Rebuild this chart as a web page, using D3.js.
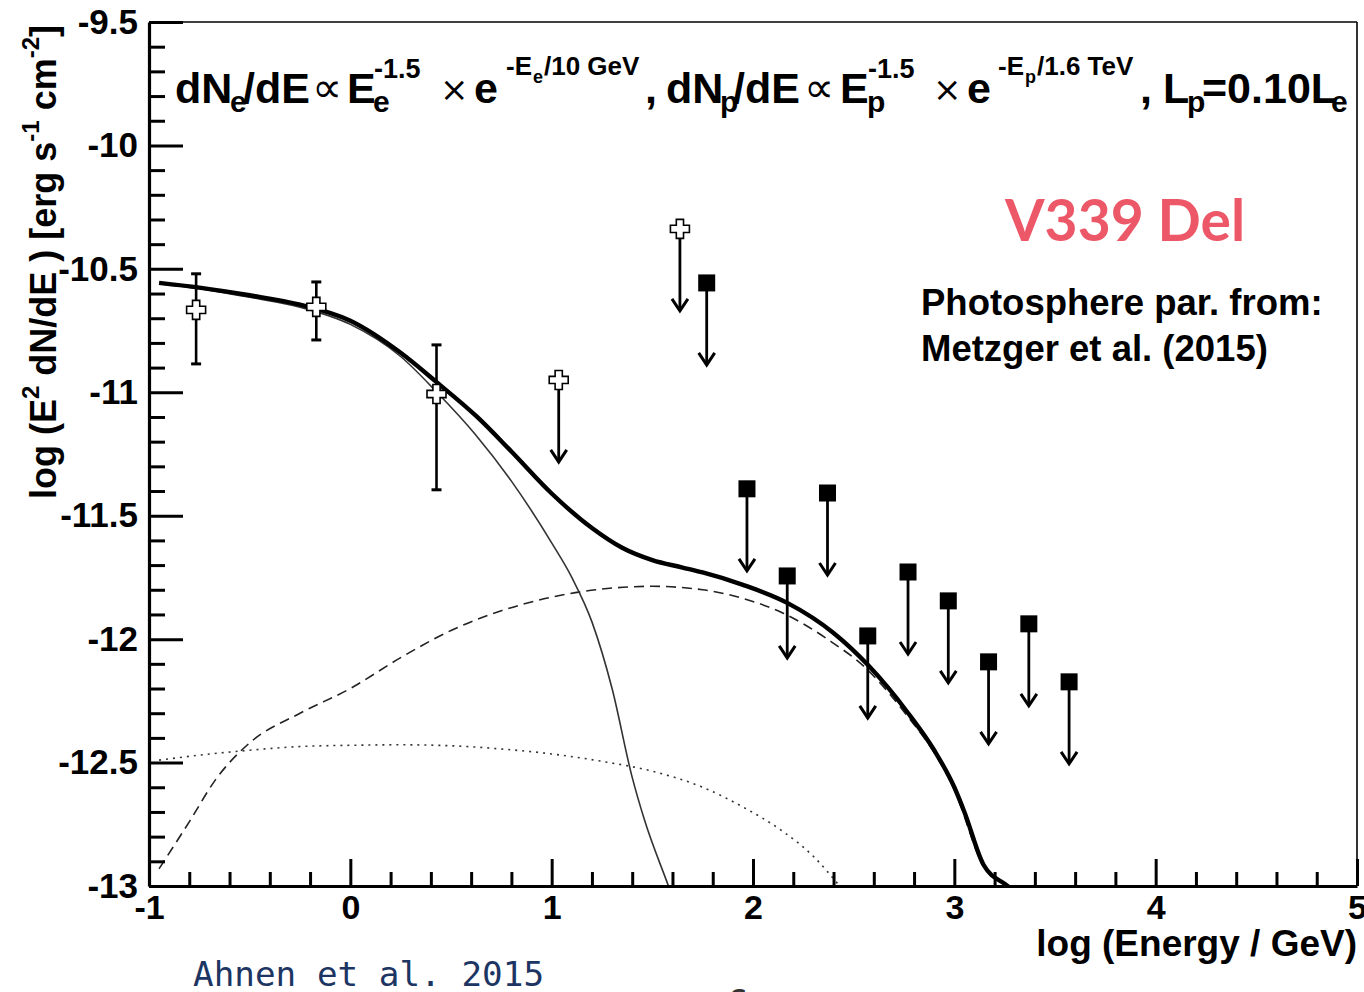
<!DOCTYPE html>
<html>
<head>
<meta charset="utf-8">
<script src="https://cdn.jsdelivr.net/npm/d3@7"></script>
<style>
  html, body { margin: 0; padding: 0; background: #fff; }
  svg { display: block; }
  text { font-family: "Liberation Sans", Arial, Helvetica, sans-serif; font-weight: bold; fill: #000; }
</style>
</head>
<body>
<svg id="chart" width="1364" height="992"></svg>
<script>
// ---- model curves: [log10(E/GeV), log10(E^2 dN/dE)] ----
const totalModel = [
  [-0.95, -10.557], [-0.75, -10.576], [-0.5, -10.607], [-0.25, -10.645], [0, -10.71],
  [0.25, -10.84], [0.43, -10.96], [0.63, -11.10], [0.8, -11.24], [1.0, -11.41],
  [1.2, -11.55], [1.35, -11.63], [1.5, -11.68], [1.65, -11.71], [1.75, -11.73],
  [1.95, -11.78], [2.17, -11.853], [2.4, -11.975], [2.57, -12.104], [2.77, -12.299],
  [2.9, -12.45], [3.0, -12.6], [3.05, -12.7], [3.145, -12.914], [3.264, -13.0], [3.35, -13.06]
];
const electronIC = [
  [-0.95, -10.56], [-0.75, -10.58], [-0.5, -10.615], [-0.25, -10.655], [0, -10.725],
  [0.25, -10.855], [0.43, -11.0], [0.62, -11.17], [0.8, -11.36], [1.0, -11.61],
  [1.1, -11.75], [1.2, -11.93], [1.3, -12.2], [1.4, -12.56], [1.46, -12.73],
  [1.58, -13.0], [1.62, -13.09]
];
const protonPi0 = [
  [-0.95, -12.93], [-0.8, -12.74], [-0.67, -12.57], [-0.5, -12.42], [-0.25, -12.30],
  [0, -12.2], [0.25, -12.075], [0.5, -11.965], [0.75, -11.885], [1.0, -11.83],
  [1.25, -11.797], [1.5, -11.786], [1.75, -11.8], [1.95, -11.835], [2.15, -11.895],
  [2.37, -12.0], [2.57, -12.125], [2.77, -12.315], [2.9, -12.46], [3.0, -12.61],
  [3.145, -12.92], [3.264, -13.0], [3.35, -13.06]
];
const secondaryComp = [
  [-0.95, -12.49], [-0.75, -12.47], [-0.5, -12.45], [-0.25, -12.435], [0, -12.43],
  [0.25, -12.428], [0.5, -12.432], [0.75, -12.445], [1.0, -12.465], [1.25, -12.495],
  [1.5, -12.535], [1.75, -12.6], [1.95, -12.68], [2.15, -12.78], [2.3, -12.88],
  [2.43, -13.0]
];

// ---- Fermi-LAT flux points with error bars ----
const fermiLogE  = [-0.766, -0.169, 0.428];
const fermiFlux  = [-10.666, -10.654, -11.007];
const fermiHigh  = [-10.52, -10.553, -10.808];
const fermiLow   = [-10.885, -10.788, -11.395];

// ---- Fermi-LAT upper limits ----
const fermiULLogE = [1.035, 1.637];
const fermiULFlux = [-10.95, -10.338];

// ---- MAGIC upper limits ----
const magicLogE = [1.77, 1.97, 2.17, 2.37, 2.57, 2.77, 2.97, 3.17, 3.37, 3.57];
const magicUL   = [-10.557, -11.391, -11.744, -11.408, -11.987, -11.728, -11.845, -12.092, -11.938, -12.173];

// ---- axis ticks ----
const xMajorTicks = [-1, 0, 1, 2, 3, 4, 5];
const yMajorTicks = [-13, -12.5, -12, -11.5, -11, -10.5, -10, -9.5];

// ---------------------------------------------------------------
const svg = d3.select("#chart");
const L = 149, R = 1357, T = 22, B = 886;

const x = d3.scaleLinear().domain([-1, 5]).range([L, R]);
const y = d3.scaleLinear().domain([-13, -9.5]).range([B, T]);

const xMinor = d3.range(-1, 5.0001, 0.2).map(v => +v.toFixed(2)).filter(v => !xMajorTicks.includes(v));
const yMinor = d3.range(-13, -9.4999, 0.1).map(v => +v.toFixed(2))
  .filter(v => !yMajorTicks.some(m => Math.abs(m - v) < 1e-6));

svg.append("defs").append("clipPath").attr("id", "plotclip")
  .append("rect").attr("x", L).attr("y", T).attr("width", R - L).attr("height", B - T);

// frame (top and right are thin)
svg.append("line").attr("x1", L).attr("x2", R).attr("y1", T).attr("y2", T)
  .attr("stroke", "#000").attr("stroke-width", 1.6);
svg.append("line").attr("x1", R).attr("x2", R).attr("y1", T).attr("y2", B)
  .attr("stroke", "#000").attr("stroke-width", 1.6);

// model curves
const line = d3.line().x(d => x(d[0])).y(d => y(d[1])).curve(d3.curveMonotoneX);
const curves = svg.append("g").attr("clip-path", "url(#plotclip)").attr("fill", "none");
curves.append("path").datum(secondaryComp).attr("d", line)
  .attr("stroke", "#333").attr("stroke-width", 1.6).attr("stroke-dasharray", "2,5");
curves.append("path").datum(protonPi0).attr("d", line)
  .attr("stroke", "#222").attr("stroke-width", 1.6).attr("stroke-dasharray", "10,6");
curves.append("path").datum(electronIC).attr("d", line)
  .attr("stroke", "#333").attr("stroke-width", 1.6);
curves.append("path").datum(totalModel).attr("d", line)
  .attr("stroke", "#000").attr("stroke-width", 4.4).attr("stroke-linejoin", "round");

// axes
function styleAxis(g, size) {
  g.selectAll("path.domain").attr("stroke", "#000").attr("stroke-width", 3.2);
  g.selectAll(".tick line").attr("stroke", "#000").attr("stroke-width", 3);
  g.selectAll("text").attr("fill", "#000").style("font-size", size + "px")
    .style("font-weight", "bold").attr("font-family", null);
}
const xAxisMinor = svg.append("g").attr("transform", `translate(0,${B})`)
  .call(d3.axisBottom(x).tickValues(xMinor).tickSize(-14).tickFormat(""));
xAxisMinor.select("path.domain").remove();
styleAxis(xAxisMinor, 34);
const xAxis = svg.append("g").attr("transform", `translate(0,${B})`)
  .call(d3.axisBottom(x).tickValues(xMajorTicks).tickSize(-27).tickSizeOuter(0)
    .tickPadding(9).tickFormat(d => String(d)));
styleAxis(xAxis, 34);

const yAxisMinor = svg.append("g").attr("transform", `translate(${L},0)`)
  .call(d3.axisLeft(y).tickValues(yMinor).tickSize(-16).tickFormat(""));
yAxisMinor.select("path.domain").remove();
styleAxis(yAxisMinor, 35);
const yAxis = svg.append("g").attr("transform", `translate(${L},0)`)
  .call(d3.axisLeft(y).tickValues(yMajorTicks).tickSize(-34).tickSizeOuter(0)
    .tickPadding(11).tickFormat(d => String(d)));
styleAxis(yAxis, 35);

// data markers
const ARROW_PX = 82;
const crossPath = (h, a) =>
  `M${-a},${-h}L${a},${-h}L${a},${-a}L${h},${-a}L${h},${a}L${a},${a}L${a},${h}` +
  `L${-a},${h}L${-a},${a}L${-h},${a}L${-h},${-a}L${-a},${-a}Z`;

function drawArrow(g, px, py) {
  const tip = py + ARROW_PX;
  g.append("line").attr("x1", px).attr("x2", px).attr("y1", py).attr("y2", tip)
    .attr("stroke", "#000").attr("stroke-width", 2.8);
  g.append("polyline")
    .attr("points", `${px - 8},${tip - 12} ${px},${tip} ${px + 8},${tip - 12}`)
    .attr("fill", "none").attr("stroke", "#000").attr("stroke-width", 3)
    .attr("stroke-linejoin", "miter");
}

const marks = svg.append("g");
// Fermi error bars
fermiLogE.forEach((e, i) => {
  const px = x(e);
  marks.append("line").attr("x1", px).attr("x2", px)
    .attr("y1", y(fermiHigh[i])).attr("y2", y(fermiLow[i]))
    .attr("stroke", "#000").attr("stroke-width", 2.6);
  [fermiHigh[i], fermiLow[i]].forEach(v => {
    marks.append("line").attr("x1", px - 5).attr("x2", px + 5)
      .attr("y1", y(v)).attr("y2", y(v)).attr("stroke", "#000").attr("stroke-width", 3);
  });
});
// Fermi upper limits
fermiULLogE.forEach((e, i) => drawArrow(marks, x(e), y(fermiULFlux[i])));
// MAGIC upper limits
magicLogE.forEach((e, i) => drawArrow(marks, x(e), y(magicUL[i])));

// open crosses
const crossE = fermiLogE.concat(fermiULLogE);
const crossF = fermiFlux.concat(fermiULFlux);
crossE.forEach((e, i) => {
  marks.append("path").attr("d", crossPath(9.5, 3.6))
    .attr("transform", `translate(${x(e)},${y(crossF[i])})`)
    .attr("fill", "#fff").attr("stroke", "#000").attr("stroke-width", 1.6);
});
// filled squares
magicLogE.forEach((e, i) => {
  marks.append("rect").attr("x", x(e) - 8.5).attr("y", y(magicUL[i]) - 8.5)
    .attr("width", 17).attr("height", 17).attr("fill", "#000");
});

// formula across the top
const MAIN_BASE = 103, SUB_BASE = 112, SUP_BASE = 78, EXP_BASE = 75, EXPSUB_BASE = 83;
const formula = [
  ["dN", 175, "m"], ["e", 230, "sub"], ["/dE", 243, "m"], ["\u221D", 312, "op"],
  ["E", 347, "m"], ["e", 373, "sub"], ["-1.5", 374, "sup"], ["\u00D7", 440, "op2"],
  ["e", 474, "m"], ["-E", 506, "exp"], ["e", 533, "expsub"], ["/10 GeV", 544, "exp"],
  [",", 645, "m"], ["dN", 666, "m"], ["p", 720, "sub"], ["/dE", 733, "m"], ["\u221D", 804, "op"],
  ["E", 840, "m"], ["p", 867, "sub"], ["-1.5", 868, "sup"], ["\u00D7", 933, "op2"],
  ["e", 967, "m"], ["-E", 998, "exp"], ["p", 1025, "expsub"], ["/1.6 TeV", 1037, "exp"],
  [",", 1140, "m"], ["L", 1163, "m"], ["p", 1187, "sub"], ["=0.10L", 1202, "m"], ["e", 1331, "sub"]
];
const roleStyle = {
  m: { y: MAIN_BASE, size: 43, weight: "bold" },
  op: { y: MAIN_BASE - 1, size: 42, weight: "normal" },
  op2: { y: MAIN_BASE - 2, size: 34, weight: "normal" },
  sub: { y: SUB_BASE, size: 30, weight: "bold" },
  sup: { y: SUP_BASE, size: 27, weight: "bold" },
  exp: { y: EXP_BASE, size: 26, weight: "bold" },
  expsub: { y: EXPSUB_BASE, size: 18, weight: "bold" }
};
const fg = svg.append("g");
formula.forEach(([t, px, role]) => {
  const s = roleStyle[role];
  fg.append("text").attr("x", px).attr("y", s.y).text(t)
    .style("font-size", s.size + "px").style("font-weight", s.weight)
    .style("font-family", role.startsWith("op") ? "'DejaVu Sans', sans-serif" : null);
});

// source name and note
svg.append("text").attr("x", 1005).attr("y", 241).text("V339 Del")
  .style("font-family", "Lato, 'Open Sans', sans-serif").style("font-size", "57px")
  .style("font-weight", "bold").style("fill", "#ec5868");
svg.append("text").attr("x", 921).attr("y", 315).text("Photosphere par. from:")
  .style("font-size", "36.5px");
svg.append("text").attr("x", 921).attr("y", 361).text("Metzger et al. (2015)")
  .style("font-size", "36.5px");

// axis titles
svg.append("text").attr("x", R).attr("y", 956).attr("text-anchor", "end")
  .text("log (Energy / GeV)").style("font-size", "37px");

const yt = svg.append("text").attr("transform", "translate(56,499) rotate(-90)")
  .style("font-size", "36px");
yt.append("tspan").text("log (E");
yt.append("tspan").text("2").attr("dy", "-0.7em").style("font-size", "24px");
yt.append("tspan").text(" dN/dE").attr("dy", "0.47em");
yt.append("tspan").text("  ) [erg s");
yt.append("tspan").text("-1").attr("dy", "-0.7em").style("font-size", "24px");
yt.append("tspan").text(" cm").attr("dy", "0.47em");
yt.append("tspan").text("-2").attr("dy", "-0.7em").style("font-size", "24px");
yt.append("tspan").text("]").attr("dy", "0.47em");

// citation below the axis
svg.append("text").attr("x", 193).attr("y", 986).text("Ahnen et al. 2015")
  .style("font-family", "'DejaVu Sans Mono', monospace").style("font-weight", "normal")
  .style("font-size", "34.3px").style("fill", "#1c3563");
svg.append("text").attr("x", 727).attr("y", 1014).text("C")
  .style("font-family", "'DejaVu Sans Mono', monospace").style("font-weight", "normal")
  .style("font-size", "34px").style("fill", "#333");
</script>
</body>
</html>
